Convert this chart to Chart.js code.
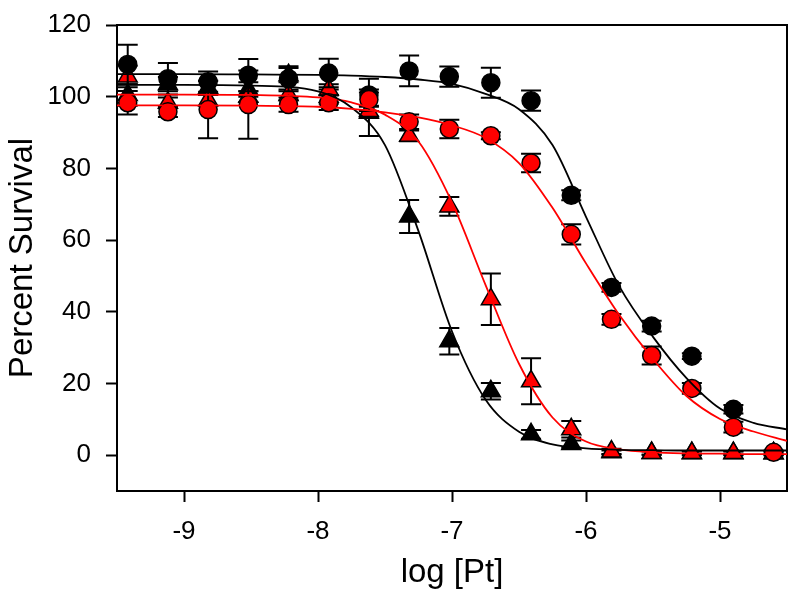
<!DOCTYPE html>
<html>
<head>
<meta charset="utf-8">
<script src="https://cdn.jsdelivr.net/npm/chart.js@4/dist/chart.umd.min.js"></script>
<style>
  html, body { margin: 0; padding: 0; background: #fff; }
  #chart { display: block; }
</style>
</head>
<body>
<canvas id="chart" width="800" height="607"></canvas>
<script>
// log concentration of each dose (x positions of the markers)
const logDose = [-9.42, -9.12, -8.82, -8.52, -8.22, -7.92, -7.62, -7.32, -7.02, -6.71, -6.41, -6.11, -5.81, -5.51, -5.21, -4.90, -4.60];

// measured survival (%) and error for each series
const blackCircle    = [109, 105, 104.2, 106, 105, 106.6, 100.5, 107.2, 105.6, 103.9, 98.9, 72.5, 46.8, 36, 27.6, 12.8, null];
const blackCircleErr = [5.5, 4.4, 2.8, 4.5, 3.5, 4, 4.5, 4.3, 2.8, 4.2, 2.8, 1.4, 1.2, 1.5, 0.8, 1.2, 0];
const redCircle      = [98.3, 95.8, 96.4, 97.8, 97.8, 98.3, 99.2, 93, 91, 89.1, 81.5, 61.6, 37.9, 27.8, 18.6, 7.8, 0.8];
const redCircleErr   = [3.3, 1.5, 8, 9.5, 2, 2, 2, 2, 2.6, 1, 2.6, 2.8, 1.5, 2.5, 1.5, 1.5, 0.5];
const blackTri       = [100.5, 103.5, 102.5, 102, 106, 100, 95.5, 66.6, 31.8, 17.8, 5.8, 3.1, 0.8, 0.6, 0.5, 0.5, 0.5];
const blackTriErr    = [3, 2, 2, 2, 2, 2, 6.5, 4.6, 3.7, 2.3, 1.2, 1, 0.5, 0.5, 0.5, 0.5, 0.5];
const redTri         = [105.6, 98.3, 99, 100, 100.5, 102, 96, 89.1, 69.4, 43.5, 20.6, 7.2, 1.0, 0.6, 0.6, 0.6, 0.5];
const redTriErr      = [3, 1.5, 1.5, 1.5, 1.5, 1.5, 1.5, 1.5, 2.6, 7.2, 6.4, 2.3, 0.8, 0.5, 0.5, 0.5, 0.5];

// fitted curves
const curveX          = [-9.5, -9.0, -8.5, -8.0, -7.75, -7.5, -7.25, -7.0, -6.75, -6.5, -6.25, -6.0, -5.75, -5.5, -5.25, -5.0, -4.75, -4.5];
const blackCircleFit  = [106.3, 106.3, 106.2, 106.1, 105.9, 105.5, 104.8, 103.6, 100.8, 96.5, 86.5, 66.5, 47, 33, 21.5, 13, 9, 7.2];
const redCircleFit    = [97.6, 97.6, 97.5, 97.2, 96.6, 95.6, 94.2, 92, 88.5, 81.5, 69, 53.5, 39, 26.8, 16.5, 10.1, 6.6, 4];
const blackTriFit     = [103.3, 103.3, 103.1, 101.5, 97, 86.5, 62.5, 34.5, 15.5, 6.5, 3, 1.9, 1.5, 1.4, 1.3, 1.3, 1.3, 1.3];
const redTriFit       = [100.6, 100.6, 100.5, 99.8, 98.4, 95, 87.5, 70.5, 47.5, 25.5, 10.5, 3.8, 1.6, 0.8, 0.5, 0.4, 0.3, 0.3];

// axis ticks
const xTicks = [-9, -8, -7, -6, -5];
const yTicks = [0, 20, 40, 60, 80, 100, 120];

const RED = "#ff0000";
const BLACK = "#000000";

const toPoints = (xs, ys) => xs.map((x, i) => ({ x: x, y: ys[i] }));

// error bars drawn right before each dataset so markers sit on top
const errorBars = {
  id: "errorBars",
  beforeDatasetDraw(chart, args) {
    const ds = chart.data.datasets[args.index];
    if (!ds.errors) return;
    const { ctx, scales: { x, y } } = chart;
    ctx.save();
    ctx.strokeStyle = BLACK;
    ctx.lineWidth = 2;
    ds.data.forEach((p, i) => {
      const e = ds.errors[i];
      if (p.y == null || !e) return;
      const px = x.getPixelForValue(p.x);
      const top = y.getPixelForValue(p.y + e);
      const bot = y.getPixelForValue(p.y - e);
      ctx.beginPath();
      ctx.moveTo(px, top); ctx.lineTo(px, bot);
      ctx.moveTo(px - 10, top); ctx.lineTo(px + 10, top);
      ctx.moveTo(px - 10, bot); ctx.lineTo(px + 10, bot);
      ctx.stroke();
    });
    ctx.restore();
  }
};

// box round the plot area
const frame = {
  id: "frame",
  beforeDatasetsDraw(chart) {
    const { ctx, chartArea: a } = chart;
    ctx.save();
    ctx.strokeStyle = BLACK;
    ctx.lineWidth = 2;
    ctx.strokeRect(a.left, a.top, a.right - a.left, a.bottom - a.top);
    ctx.restore();
  }
};

const markerSet = (label, ys, errs, style, fill, radius, order) => ({
  label: label,
  data: toPoints(logDose, ys),
  errors: errs,
  pointStyle: style,
  pointRadius: radius,
  backgroundColor: fill,
  borderColor: BLACK,
  borderWidth: 1.5,
  showLine: false,
  order: order
});

const curveSet = (label, ys, color) => ({
  label: label,
  data: toPoints(curveX, ys),
  showLine: true,
  pointRadius: 0,
  borderColor: color,
  borderWidth: 1.8,
  cubicInterpolationMode: "monotone",
  fill: false,
  order: 0
});

Chart.defaults.font.family = "'Liberation Sans', Arial, Helvetica, sans-serif";
Chart.defaults.color = BLACK;

new Chart(document.getElementById("chart"), {
  type: "scatter",
  data: {
    datasets: [
      curveSet("black circle fit", blackCircleFit, BLACK),
      curveSet("red circle fit", redCircleFit, RED),
      curveSet("black triangle fit", blackTriFit, BLACK),
      curveSet("red triangle fit", redTriFit, RED),
      markerSet("red circles", redCircle, redCircleErr, "circle", RED, 9, 1),
      markerSet("black circles", blackCircle, blackCircleErr, "circle", BLACK, 9, 2),
      markerSet("red triangles", redTri, redTriErr, "triangle", RED, 11, 3),
      markerSet("black triangles", blackTri, blackTriErr, "triangle", BLACK, 11, 4)
    ]
  },
  options: {
    responsive: false,
    animation: false,
    devicePixelRatio: 1,
    layout: { padding: { left: 0, top: 25, right: 13, bottom: 0 } },
    plugins: {
      legend: { display: false },
      tooltip: { enabled: false }
    },
    scales: {
      x: {
        type: "linear",
        min: -9.5,
        max: -4.5,
        afterBuildTicks: (scale) => { scale.ticks = xTicks.map((v) => ({ value: v })); },
        afterFit: (scale) => {
          scale.height = 116;
          scale.paddingLeft = 0;
          scale.paddingRight = 0;
        },
        ticks: { font: { size: 26 }, color: BLACK, padding: 14 },
        grid: { drawOnChartArea: false, drawTicks: true, tickLength: 11, tickWidth: 2, tickColor: BLACK },
        border: { display: true, color: BLACK, width: 2 },
        title: { display: true, text: "log [Pt]", font: { size: 33 }, color: BLACK, padding: { top: 0, bottom: 14 } }
      },
      y: {
        type: "linear",
        min: -10,
        max: 120,
        afterBuildTicks: (scale) => { scale.ticks = yTicks.map((v) => ({ value: v })); },
        afterFit: (scale) => {
          scale.width = 117;
          scale.paddingTop = 0;
          scale.paddingBottom = 0;
        },
        ticks: { font: { size: 26 }, color: BLACK, padding: 15 },
        grid: { drawOnChartArea: false, drawTicks: true, tickLength: 11, tickWidth: 2, tickColor: BLACK },
        border: { display: true, color: BLACK, width: 2 },
        title: { display: true, text: "Percent Survival", font: { size: 33 }, color: BLACK, padding: { top: 3, bottom: 0 } }
      }
    }
  },
  plugins: [errorBars, frame]
});
</script>
</body>
</html>
